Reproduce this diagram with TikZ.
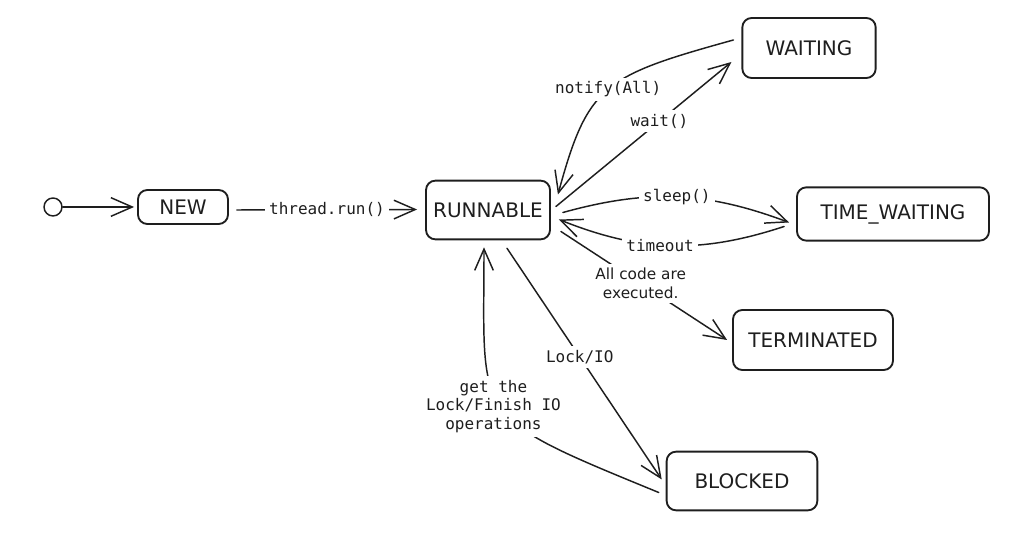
\documentclass[tikz,border=0pt]{standalone}
\usepackage{fontspec}
\setmainfont{DejaVu Sans}
\newfontfamily\monof{DejaVu Sans Mono}
\newfontfamily\handf{DejaVu Sans}
\usetikzlibrary{arrows.meta}
\definecolor{ink}{HTML}{1E1E1E}

\begin{document}
\begin{tikzpicture}[x=0.75pt,y=0.75pt,line cap=round,line join=round,
    state/.style={draw=ink,text=ink,line width=1.4pt,rounded corners=7pt,font=\handf\fontsize{15}{17}\selectfont},
    trans/.style={draw=ink,line width=1.1pt,-{Straight Barb[length=16pt,width=14pt,line width=1.1pt]}},
    lbl/.style={fill=white,text=ink,inner sep=3pt,align=center,font=\monof\fontsize{12}{14}\selectfont}]
    \useasboundingbox (0,0) rectangle (1028,546);
    % states
    \node[draw=ink,line width=1.1pt,circle,minimum size=13.5pt,inner sep=0pt] (init) at (53,339) {};
    \node[state,minimum width=67.5pt,minimum height=25.5pt] (new) at (183,339) {NEW};
    \node[state,minimum width=93pt,minimum height=44pt] (run) at (488,336) {RUNNABLE};
    \node[state,minimum width=100pt,minimum height=45pt] (wait) at (809,498) {WAITING};
    \node[state,minimum width=144pt,minimum height=40pt] (tw) at (893,332) {TIME\_WAITING};
    \node[state,minimum width=120pt,minimum height=45pt] (term) at (813,206) {TERMINATED};
    \node[state,minimum width=113pt,minimum height=44pt] (blk) at (742,65) {BLOCKED};
    % transitions
    \draw[trans] (init) -- ([shift={(-3,0)}]new.west);
    \draw[trans] ([shift={(8,-3)}]new.east) -- node[lbl]{thread.run()} ([shift={(-8,0.5)}]run.west);
    \draw[trans] ([shift={(5,3.5)}]run.east) -- node[lbl,pos=0.59]{wait()} ([shift={(-10,-14)}]wait.west);
    \draw[trans] ([shift={(-8,8)}]wait.west) .. controls +(-130,-36) and +(30,110) .. node[lbl]{notify(All)} ([shift={(7,15.5)}]run.east);
    \draw[trans] ([shift={(12,-2.5)}]run.east) to[bend left=18] node[lbl]{sleep()} ([shift={(-7,-8.5)}]tw.west);
    \draw[trans] ([shift={(-12,-12.5)}]tw.west) to[bend left=20] node[lbl,pos=0.55]{timeout} ([shift={(8,-9.5)}]run.east);
    \draw[trans] ([shift={(10,-21.5)}]run.east) -- node[lbl,pos=0.48,font=\handf\fontsize{11.5}{14}\selectfont]{All code are\\executed.} ([shift={(-5,0)}]term.west);
    \draw[trans] ([shift={(19,-8)}]run.south) -- node[lbl,pos=0.47]{Lock/IO} ([shift={(-4,1.5)}]blk.west);
    \draw[trans] ([shift={(-7,-11.5)}]blk.west) .. controls +(-190,78) and +(0,-175) .. node[lbl,xshift=-5pt]{get the\\Lock/Finish IO\\operations} ([shift={(-4,-7)}]run.south);
\end{tikzpicture}
\end{document}
